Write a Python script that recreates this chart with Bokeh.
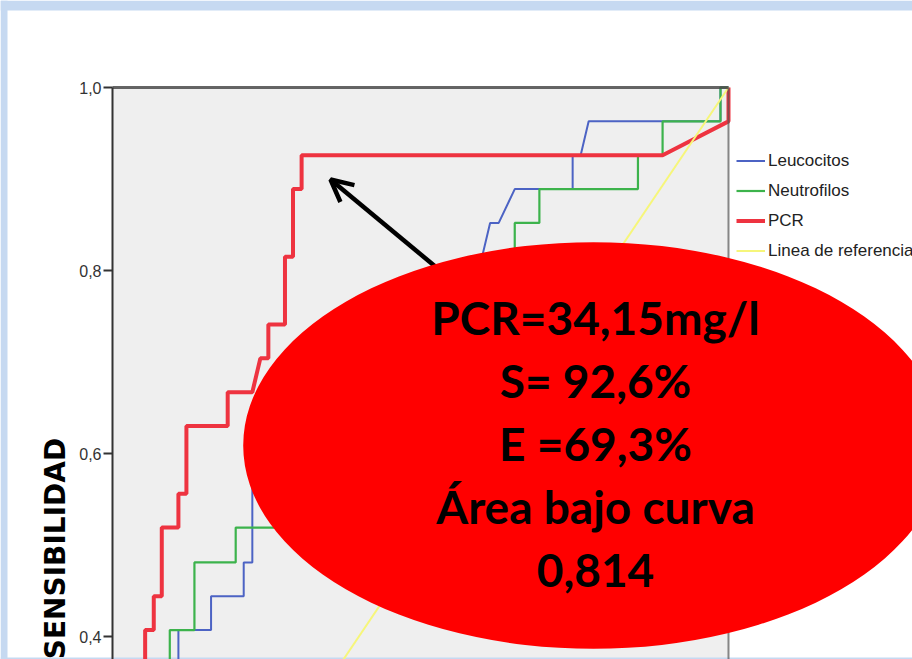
from bokeh.plotting import figure
from bokeh.models import (Range1d, FixedTicker, Label, Legend, LegendItem,
                          Arrow, OpenHead)
from bokeh.embed import file_html
from bokeh.resources import INLINE
import math

# ---------------- data (ROC curves) ----------------
leuco_fpr = [0, 0, .040, .040, .067, .067, .107, .107, .160, .160, .213, .213,
             .227, .227, .333, .333, .427, .427, .507, .507, .560, .600, .613,
             .627, .653, .747, .747, .760, .773, .987, .987, 1]
leuco_tpr = [0, .111, .111, .222, .222, .296, .296, .407, .407, .444, .444, .481,
             .481, .593, .593, .667, .667, .741, .741, .778, .778, .815, .852,
             .852, .889, .889, .926, .926, .963, .963, 1, 1]

neutro_fpr = [0, 0, .027, .027, .053, .053, .093, .093, .133, .133, .200, .200,
              .320, .320, .400, .400, .480, .480, .560, .560, .613, .613, .653,
              .653, .693, .693, .853, .853, .893, .893, .987, .987, 1]
neutro_tpr = [0, .111, .111, .222, .222, .296, .296, .407, .407, .481, .481, .519,
              .519, .593, .593, .667, .667, .741, .741, .778, .778, .815, .815,
              .852, .852, .889, .889, .926, .926, .963, .963, 1, 1]

pcr_fpr = [0, 0, .013, .013, .027, .027, .040, .040, .053, .053, .067, .067,
           .080, .080, .107, .107, .120, .120, .187, .187, .227, .240, .253,
           .253, .280, .280, .293, .293, .307, .307, .893, 1, 1]
pcr_tpr = [0, .074, .074, .185, .185, .259, .259, .333, .333, .407, .407, .444,
           .444, .519, .519, .556, .556, .630, .630, .667, .667, .704, .704,
           .741, .741, .815, .815, .889, .889, .926, .926, .963, 1]

ref_x = [0, 1]
ref_y = [0, 1]

series_names = ["Leucocitos", "Neutrofilos", "PCR", "Linea de referencia"]
y_ticks = [0.0, 0.2, 0.4, 0.6, 0.8, 1.0]
y_tick_labels = ["0,0", "0,2", "0,4", "0,6", "0,8", "1,0"]
axis_title = "SENSIBILIDAD"
note_lines = ["PCR=34,15mg/l", "S= 92,6%", "E =69,3%", "Área bajo curva", "0,814"]

# ---------------- geometry helpers (page pixels -> data) ----------------
X0_PX, PX_X = 112, 616.0     # page x of fpr=0, pixels per unit
Y1_PX, PX_Y = 87, 915.0      # page y of tpr=1, pixels per unit
W, H = 912, 659
SLIDE_BLUE = "#c6d9f1"


def dx(px):
    return (px - X0_PX) / PX_X


def dy(py):
    return 1 - (py - Y1_PX) / PX_Y


p = figure(width=W, height=H, output_backend="svg", toolbar_location=None,
           x_range=Range1d(dx(0), dx(W)), y_range=Range1d(dy(H), dy(0)),
           x_axis_location=None, min_border_left=0, min_border_right=0,
           min_border_top=0, min_border_bottom=0, outline_line_color=None,
           background_fill_color="white", border_fill_color="white")
p.grid.visible = False

ax = p.yaxis[0]
ax.fixed_location = 0
ax.ticker = FixedTicker(ticks=y_ticks)
ax.major_label_overrides = {t: l for t, l in zip(y_ticks, y_tick_labels)}
ax.bounds = (0, 1)
ax.axis_line_width = 2
ax.axis_line_color = "#333333"
ax.major_tick_line_width = 2
ax.major_tick_line_color = "#333333"
ax.major_tick_out = 9
ax.major_tick_in = 0
ax.minor_tick_line_color = None
ax.major_label_standoff = 2
ax.major_label_text_font = "Liberation Sans"
ax.major_label_text_font_size = "16px"
ax.major_label_text_color = "#333333"

# slide background strips
p.quad(left=[dx(0), dx(0), dx(0)], right=[dx(W), dx(7), dx(W)],
       top=[dy(0), dy(0), dy(657)], bottom=[dy(10), dy(H), dy(H)],
       fill_color=SLIDE_BLUE, line_color=None)

# plot area background
bg = p.quad(left=[0], right=[1], bottom=[0], top=[1], fill_color="#efefef",
            line_color=None)
bg.level = "image"

# arrow (beneath the ellipse)
arrow = Arrow(end=OpenHead(size=22, line_width=4.5, line_color="black"),
              x_start=dx(442), y_start=dy(272), x_end=dx(330), y_end=dy(179),
              line_width=4.5, line_color="black", level="underlay")
p.add_layout(arrow)

r_leu = p.line(leuco_fpr, leuco_tpr, line_color="#4c63c4", line_width=2)
r_neu = p.line(neutro_fpr, neutro_tpr, line_color="#3cb34c", line_width=2.2)
r_pcr = p.line(pcr_fpr, pcr_tpr, line_color="#ee3340", line_width=4)
r_ref = p.line(ref_x, ref_y, line_color="#f6f67a", line_width=2)

# frame borders (top and right)
p.line([0, 1], [1, 1], line_color="#4a4a4a", line_width=3, line_alpha=0.85)
p.line([1, 1], [dy(H) - 0.1, 1], line_color="#555555", line_width=2,
       line_alpha=0.7)

# callout ellipse
p.ellipse(x=[dx(593)], y=[dy(445)], width=[700.6 / PX_X],
          height=[406.6 / PX_Y], fill_color="#ff0000", line_color=None)

for i, txt in enumerate(note_lines):
    p.add_layout(Label(x=dx(595), y=dy(316.5 + i * 63.3), text=txt,
                       text_font="Lato", text_font_style="bold",
                       text_font_size="46px", text_color="black",
                       text_align="center", text_baseline="alphabetic"))

p.add_layout(Label(x=dx(54.5), y=dy(548), text=axis_title, angle=math.pi / 2,
                   text_font="DejaVu Sans", text_font_style="bold",
                   text_font_size="28px", text_color="black",
                   text_align="center", text_baseline="middle"))

legend = Legend(items=[LegendItem(label=n, renderers=[r])
                       for n, r in zip(series_names, [r_leu, r_neu, r_pcr, r_ref])],
                location=(736, H - 261.2), padding=0, margin=0,
                spacing=9, glyph_width=29, glyph_height=21, label_height=21,
                label_standoff=3, border_line_color=None,
                background_fill_alpha=0, label_text_font="Liberation Sans",
                label_text_font_size="17px", label_text_color="#222222",
                label_text_baseline="middle")
p.add_layout(legend)

open("out.html", "w").write(file_html(p, INLINE))
